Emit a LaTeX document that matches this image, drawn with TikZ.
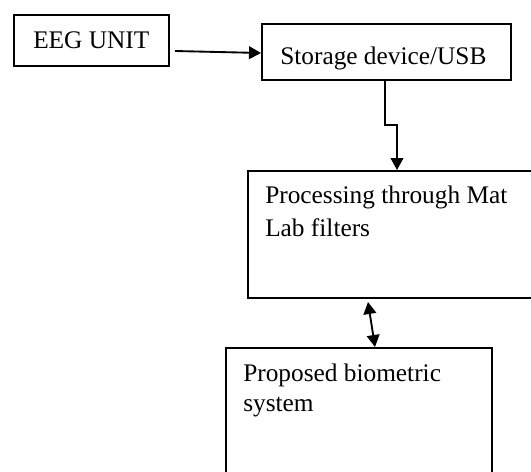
\documentclass[tikz,border=0pt]{standalone}
\usepackage{fontspec}
\setmainfont{Liberation Serif}
\usetikzlibrary{arrows.meta,calc}

\begin{document}
\begin{tikzpicture}[x=0.75pt,y=-0.75pt,
  block/.style={draw, line width=1.5pt, inner sep=0pt, anchor=north west},
  lbl/.style={anchor=base west, inner sep=0pt, font=\fontsize{19}{24}\selectfont},
  tip/.tip={Triangle[length=9pt,width=9.5pt]},
  link/.style={line width=1.4pt, -tip},
  twoway/.style={line width=1.4pt, tip-tip}]
  \useasboundingbox (0,0) rectangle (531,471);

  % blocks (the last two run past the page edge)
  \node[block, minimum width=116.25pt, minimum height=38.25pt] (eeg) at (13,14) {};
  \node[block, minimum width=186.75pt, minimum height=42pt] (store) at (261,23) {};
  \node[block, minimum width=234.75pt, minimum height=95.25pt] (proc) at (247,170) {};
  \node[block, minimum width=199.5pt, minimum height=120pt] (prop) at (225,347) {};

  % labels
  \node[lbl] (teeg) at (33,48) {EEG UNIT};
  \node[lbl] (tstore) at (280,64) {Storage device/USB};
  \node[lbl] (tproc1) at (265,203) {Processing through Mat};
  \node[lbl] (tproc2) at (265,236) {Lab filters};
  \node[lbl] (tprop1) at (243,381) {Proposed biometric};
  \node[lbl] (tprop2) at (243,411) {system};

  % connectors
  \draw[link] ($(eeg.east)+(5,10.5)$) -- ($(store.west)+(0,1)$);
  \draw[link] ($(store.south)+(-1.5,0)$) |- ($(store.south)+(10.5,44)$) -- (proc.north -| {$(store.south)+(10.5,0)$});
  \draw[twoway] ($(proc.south)+(-36.5,3)$) -- ($(prop.north)+(16,0)$);
\end{tikzpicture}
\end{document}
